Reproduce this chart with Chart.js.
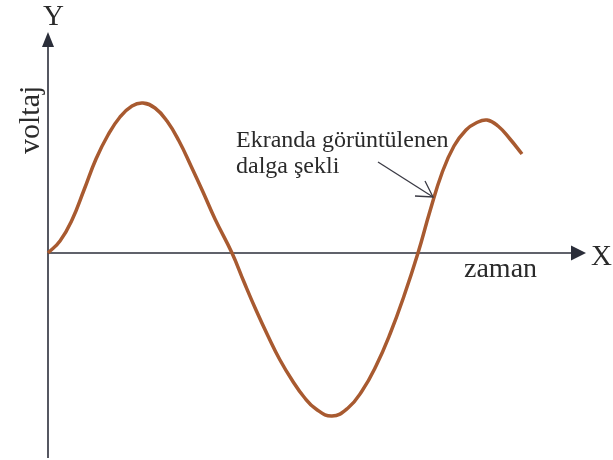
<!DOCTYPE html>
<html>
<head>
<meta charset="utf-8">
<script src="https://cdn.jsdelivr.net/npm/chart.js@4/dist/chart.umd.min.js"></script>
<style>
  body { margin: 0; background: #fff; }
  #wrap { width: 613px; height: 460px; position: relative; }
</style>
</head>
<body>
<div id="wrap"><canvas id="dalga"></canvas></div>
<script>
// zaman (yatay) ve voltaj (dikey) değerleri
const zaman  = [0, 12, 24, 36, 48, 60, 72, 84, 95, 107, 119, 131, 143, 155, 167, 184,
                196, 208, 220, 232, 244, 256, 268, 284, 300, 314, 328, 342, 356, 370,
                382, 394, 406, 418, 428, 439, 450, 462, 474];
const voltaj = [0, 12, 33, 63, 94, 118, 136, 147, 150, 145, 132, 112, 87, 61, 34, 0,
                -29, -57, -83, -107, -127, -144, -156, -163, -155, -138, -113, -81, -43, 0,
                42, 80, 107, 123, 130, 133, 127, 114, 99];

const zamanMin = 0, zamanMax = 538;
const voltajMin = -205, voltajMax = 221;

const eksenRengi = '#2b2e3a';
const dalgaRengi = '#a85a30';

const ciz = {
  id: 'ciz',
  beforeDatasetsDraw(chart) {
    const c = chart.ctx;
    const x0 = chart.scales.x.getPixelForValue(0);
    const y0 = chart.scales.y.getPixelForValue(0);
    const top = chart.chartArea.top, right = chart.chartArea.right;
    c.save();
    c.strokeStyle = eksenRengi;
    c.fillStyle = eksenRengi;
    c.lineWidth = 1.6;
    // Y ekseni
    c.beginPath(); c.moveTo(x0, 458); c.lineTo(x0, top + 12); c.stroke();
    c.beginPath(); c.moveTo(x0, top); c.lineTo(x0 - 6, top + 15); c.lineTo(x0 + 6, top + 15); c.closePath(); c.fill();
    // X ekseni
    c.beginPath(); c.moveTo(x0, y0); c.lineTo(right - 12, y0); c.stroke();
    c.beginPath(); c.moveTo(right, y0); c.lineTo(right - 15, y0 - 7.5); c.lineTo(right - 15, y0 + 7.5); c.closePath(); c.fill();
    c.restore();
  },
  afterDraw(chart) {
    const c = chart.ctx;
    c.save();
    c.fillStyle = '#2a2a2a';
    c.textBaseline = 'alphabetic';
    c.font = '29px "Liberation Serif"';
    c.fillText('Y', 43, 25);
    c.fillText('X', 591, 265);
    c.font = '28px "Liberation Serif"';
    c.fillText('zaman', 464, 277);
    c.font = '24px "Liberation Serif"';
    c.fillText('Ekranda görüntülenen', 236, 147);
    c.fillText('dalga şekli', 236, 173);
    c.save();
    c.translate(39, 154);
    c.rotate(-Math.PI / 2);
    c.font = '30px "Liberation Serif"';
    c.fillText('voltaj', 0, 0);
    c.restore();
    // açıklama oku
    c.strokeStyle = '#3a3a44';
    c.lineWidth = 1.3;
    c.beginPath(); c.moveTo(378, 162); c.lineTo(433, 197); c.stroke();
    c.beginPath(); c.moveTo(425, 181); c.lineTo(433, 197); c.lineTo(415, 196); c.stroke();
    c.restore();
  }
};

new Chart(document.getElementById('dalga'), {
  type: 'line',
  data: {
    datasets: [{
      data: zaman.map((t, i) => ({ x: t, y: voltaj[i] })),
      borderColor: dalgaRengi,
      borderWidth: 3.5,
      pointRadius: 0,
      tension: 0.45,
      fill: false,
      clip: false
    }]
  },
  options: {
    responsive: true,
    maintainAspectRatio: false,
    animation: false,
    layout: { padding: { left: 48, right: 613 - 48 - 538, top: 32, bottom: 2 } },
    scales: {
      x: { type: 'linear', min: zamanMin, max: zamanMax, display: false },
      y: { type: 'linear', min: voltajMin, max: voltajMax, display: false }
    },
    plugins: { legend: { display: false }, tooltip: { enabled: false } }
  },
  plugins: [ciz]
});
</script>
</body>
</html>
